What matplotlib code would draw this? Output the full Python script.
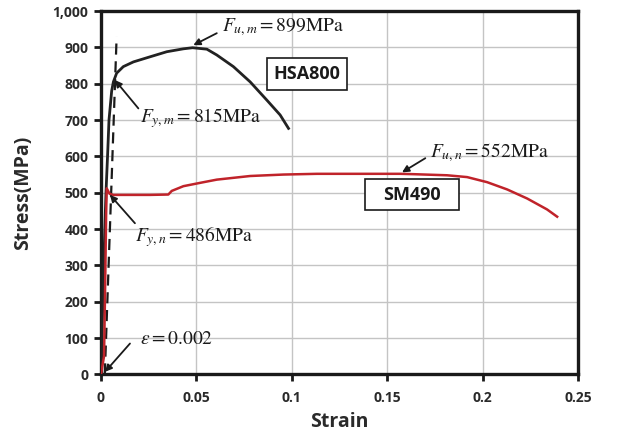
import matplotlib
matplotlib.use("Agg")
import matplotlib.pyplot as plt
from matplotlib.patches import Rectangle
from matplotlib.ticker import FuncFormatter

# HSA800 stress-strain curve (strain, MPa)
hsa_strain = [0.0, 0.0012, 0.002, 0.0026, 0.0035, 0.0042, 0.0056, 0.0065, 0.0082,
              0.0117, 0.017, 0.0257, 0.0345, 0.0432, 0.048, 0.0555, 0.0607,
              0.0694, 0.0782, 0.0869, 0.0939, 0.0983]
hsa_stress = [0, 250, 400, 498, 608, 700, 780, 805, 829,
              847, 860, 874, 888, 896, 899, 895, 879,
              847, 805, 755, 714, 677]

# SM490 stress-strain curve
sm_strain = [0.0, 0.0016, 0.0022, 0.0027, 0.003, 0.0045, 0.0065, 0.0257, 0.0353, 0.0371,
             0.0432, 0.0528, 0.0607, 0.0782, 0.0957, 0.1132, 0.1394, 0.1569, 0.1639,
             0.1814, 0.1919, 0.2024, 0.2129, 0.2234, 0.2338, 0.2391]
sm_stress = [0, 50, 250, 440, 512, 497, 494, 494, 495, 505,
             518, 528, 536, 546, 550, 552, 552, 552, 551,
             548, 543, 529, 509, 484, 454, 434]

# 0.2% offset line
offset_strain = [0.002, 0.0082]
offset_stress = [0, 929]

x_ticks = [0, 0.05, 0.1, 0.15, 0.2, 0.25]
y_ticks = [0, 100, 200, 300, 400, 500, 600, 700, 800, 900, 1000]

fig = plt.figure(figsize=(6.28, 4.41), dpi=100)
ax = fig.add_axes([0.1608, 0.151, 0.7595, 0.824])

ax.set_xlim(0, 0.25)
ax.set_ylim(0, 1000)
ax.set_xticks(x_ticks)
ax.set_yticks(y_ticks)
ax.grid(True, color="#c4c4c4", lw=1.0)
ax.set_axisbelow(True)

for sp in ax.spines.values():
    sp.set_linewidth(2.4)
    sp.set_color("#1a1a1a")

ax.xaxis.set_major_formatter(FuncFormatter(lambda v, p: "0" if v == 0 else f"{v:g}"))
ax.yaxis.set_major_formatter(FuncFormatter(lambda v, p: f"{int(v):,}"))
for lbl in ax.get_xticklabels() + ax.get_yticklabels():
    lbl.set_fontfamily("Open Sans")
    lbl.set_fontweight("bold")
    lbl.set_fontsize(10)
    lbl.set_color("#2a2a2a")
ax.tick_params(axis="both", direction="out", length=5, width=2, color="#1a1a1a")
ax.tick_params(axis="x", pad=7)
ax.tick_params(axis="y", pad=4)

ax.set_xlabel("Strain", fontfamily="Open Sans", fontweight="bold", fontsize=14,
              color="#2a2a2a", labelpad=5)
ax.set_ylabel("Stress(MPa)", fontfamily="Open Sans", fontweight="bold", fontsize=14,
              color="#2a2a2a", labelpad=14)

ax.plot(offset_strain, offset_stress, color="#1a1a1a", lw=1.6, ls=(0, (5, 3)), zorder=3)
ax.plot(hsa_strain, hsa_stress, color="#222222", lw=2.0, zorder=4,
        solid_joinstyle="round")
ax.plot(sm_strain, sm_stress, color="#c0232a", lw=1.8, zorder=5,
        solid_joinstyle="round")

plt.rcParams["mathtext.fontset"] = "stix"
arrow = dict(arrowstyle="-|>", color="#1a1a1a", lw=1.3, mutation_scale=10,
             shrinkA=0, shrinkB=0)
ann_font = dict(fontsize=14, color="#1a1a1a", va="center", ha="left")

ax.annotate("", xy=(0.0484, 906), xytext=(0.0607, 939), arrowprops=arrow, zorder=6)
ax.text(0.0633, 956, r"$F_{u,m} = 899\mathrm{MPa}$", **ann_font)

ax.annotate("", xy=(0.0073, 810), xytext=(0.0196, 732), arrowprops=arrow, zorder=6)
ax.text(0.0205, 706, r"$F_{y,m} = 815\mathrm{MPa}$", **ann_font)

ax.annotate("", xy=(0.0047, 494), xytext=(0.0178, 416), arrowprops=arrow, zorder=6)
ax.text(0.0178, 379, r"$F_{y,n} = 486\mathrm{MPa}$", **ann_font)

ax.annotate("", xy=(0.0021, 7), xytext=(0.0152, 85), arrowprops=arrow, zorder=6)
ax.text(0.0205, 100, r"$\varepsilon = 0.002$", **ann_font)

ax.annotate("", xy=(0.1578, 556), xytext=(0.170, 595), arrowprops=arrow, zorder=6)
ax.text(0.1726, 610, r"$F_{u,n} = 552\mathrm{MPa}$", **ann_font)

# material labels in boxes
for (x0, x1, y0, y1, name) in [(0.0869, 0.129, 784, 870, "HSA800"),
                                (0.1385, 0.1878, 452, 538, "SM490")]:
    ax.add_patch(Rectangle((x0, y0), x1 - x0, y1 - y0, facecolor="white",
                           edgecolor="#1a1a1a", lw=1.2, zorder=6))
    ax.text((x0 + x1) / 2, (y0 + y1) / 2, name, ha="center", va="center",
            fontfamily="Open Sans", fontweight="bold", fontsize=13,
            color="#1a1a1a", zorder=7)

fig.savefig("out.png", dpi=100)
